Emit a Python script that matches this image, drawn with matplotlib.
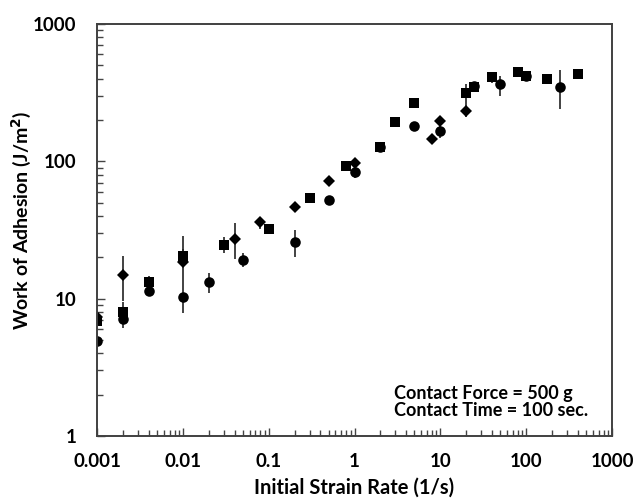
import matplotlib
matplotlib.use("Agg")
import matplotlib.pyplot as plt
import numpy as np
from matplotlib.ticker import FixedLocator, LogLocator, NullFormatter

# ---- data ----
circle_x = [0.001, 0.002, 0.004, 0.01, 0.02, 0.05, 0.2, 0.5, 1, 2, 5, 10, 25, 50, 100, 250]
circle_y = [4.9, 7.1, 11.4, 10.3, 13.3, 19.2, 25.8, 52, 84, 128, 180, 166, 353, 363, 417, 350]
circle_lo = [4.2, 6.1, 10.8, 7.8, 11.0, 16.9, 20.0, 52, 75, 124, 180, 148, 353, 298, 400, 239]
circle_hi = [5.6, 8.2, 12.1, 12.7, 15.3, 21.4, 31.7, 52, 88, 132, 180, 190, 353, 420, 430, 459]

square_x = [0.001, 0.002, 0.004, 0.01, 0.03, 0.1, 0.3, 0.8, 2, 3, 5, 20, 25, 40, 80, 100, 175, 400]
square_y = [6.9, 8.0, 13.3, 20.3, 24.4, 32.1, 54, 93, 128, 195, 265, 315, 345, 410, 449, 417, 395, 433]
square_lo = [6.5, 7.2, 12.5, 17.0, 21.4, 32.1, 54, 93, 125, 195, 265, 263, 345, 370, 430, 417, 395, 433]
square_hi = [7.3, 9.5, 14.6, 23.0, 27.9, 32.1, 54, 93, 131, 195, 265, 367, 345, 440, 465, 417, 395, 433]

diamond_x = [0.001, 0.002, 0.01, 0.04, 0.08, 0.2, 0.5, 1, 8, 10, 20]
diamond_y = [7.4, 14.9, 18.6, 27.3, 36.1, 46.2, 72.3, 97.2, 145, 198, 234]
diamond_lo = [6.8, 9.6, 12.7, 19.5, 32.0, 43.0, 72.3, 97.2, 145, 185, 210]
diamond_hi = [8.0, 20.6, 28.7, 35.5, 39.6, 49.6, 72.3, 97.2, 145, 210, 263]

x_ticks = [0.001, 0.01, 0.1, 1, 10, 100, 1000]
x_labels = ["0.001", "0.01", "0.1", "1", "10", "100", "1000"]
y_ticks = [1, 10, 100, 1000]
y_labels = ["1", "10", "100", "1000"]

plt.rcParams['font.family'] = ['Lato', 'DejaVu Sans']
plt.rcParams['font.weight'] = 'bold'

fig = plt.figure(figsize=(6.34, 5.0), dpi=100)
ax = fig.add_axes([97/634, 1-436/500, (612-97)/634, (436-24)/500])

def series(x, y, lo, hi, marker, ms):
    x = np.array(x); y = np.array(y)
    yerr = np.vstack([y - np.array(lo), np.array(hi) - y])
    ax.errorbar(x, y, yerr=yerr, fmt=marker, color='black', ms=ms,
                ecolor='#222222', elinewidth=1.2, capsize=3.2, capthick=1.2,
                markeredgewidth=0)

series(circle_x, circle_y, circle_lo, circle_hi, 'o', 7.6)
series(square_x, square_y, square_lo, square_hi, 's', 7.2)
series(diamond_x, diamond_y, diamond_lo, diamond_hi, 'D', 6.0)

ax.set_xscale('log')
ax.set_yscale('log')
ax.set_xlim(0.001, 1000)
ax.set_ylim(1, 1000)

ax.xaxis.set_major_locator(FixedLocator(x_ticks))
ax.set_xticklabels(x_labels)
ax.yaxis.set_major_locator(FixedLocator(y_ticks))
ax.set_yticklabels(y_labels)
ax.xaxis.set_minor_locator(LogLocator(base=10, subs=np.arange(2, 10)))
ax.yaxis.set_minor_locator(LogLocator(base=10, subs=np.arange(2, 10)))
ax.xaxis.set_minor_formatter(NullFormatter())
ax.yaxis.set_minor_formatter(NullFormatter())

ax.tick_params(axis='both', which='major', direction='in', length=6, width=1,
               color='#444444', labelsize=13.5)
ax.tick_params(axis='both', which='minor', direction='in', length=4, width=1,
               color='#444444')
ax.tick_params(axis='x', which='major', pad=12)
ax.tick_params(axis='y', which='major', pad=15)
for lab in ax.get_xticklabels() + ax.get_yticklabels():
    lab.set_fontweight('bold')

for sp in ax.spines.values():
    sp.set_color('#404040')
    sp.set_linewidth(1.4)

ax.set_xlabel('Initial Strain Rate (1/s)', fontsize=14.5, fontweight='bold', labelpad=6)
ax.set_ylabel('Work of Adhesion (J/m$^\\mathbf{2}$)', fontsize=14, fontweight='bold')
ax.yaxis.set_label_coords((33 - 97) / 515, (436 - 220) / 412)

fig.text(394/634, 1-393/500, 'Contact Force = 500 g', fontsize=13, fontweight='bold',
         va='center', ha='left')
fig.text(394/634, 1-411/500, 'Contact Time = 100 sec.', fontsize=13, fontweight='bold',
         va='center', ha='left')

fig.savefig('out.png', dpi=100)
